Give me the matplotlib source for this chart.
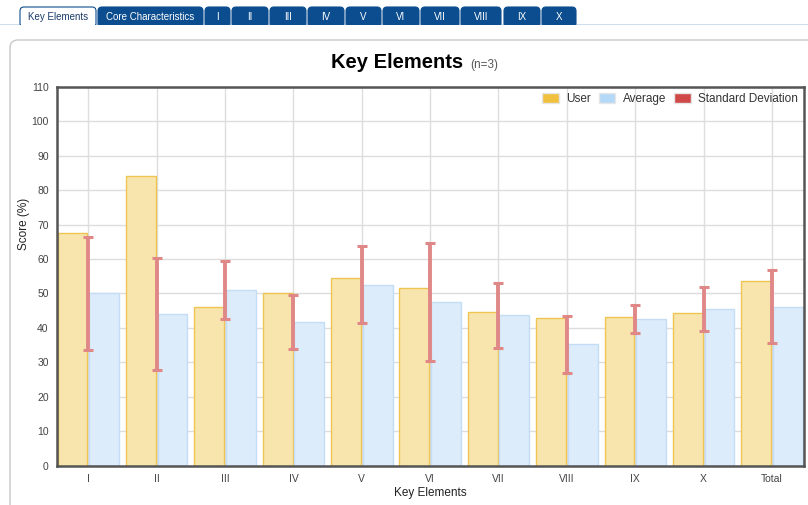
import matplotlib
matplotlib.use("Agg")
import matplotlib.pyplot as plt
from matplotlib.patches import FancyBboxPatch, Patch
import numpy as np

plt.rcParams['font.family'] = ['Liberation Sans', 'DejaVu Sans']

# chart data
categories = ['I', 'II', 'III', 'IV', 'V', 'VI', 'VII', 'VIII', 'IX', 'X', 'Total']
user = [67.5, 84, 46, 50, 54.5, 51.7, 44.6, 42.8, 43.1, 44.2, 53.7]
average = [50, 44, 51, 41.8, 52.6, 47.5, 43.6, 35.2, 42.5, 45.5, 46.1]
std_dev = [16.5, 16.3, 8.5, 7.8, 11.1, 17.1, 9.5, 8.3, 4.0, 6.5, 10.6]

tabs = ['Key Elements', 'Core Characteristics', 'I', 'II', 'III', 'IV', 'V',
        'VI', 'VII', 'VIII', 'IX', 'X']
tab_edges = [(20, 96), (98, 203), (205, 230), (232, 268), (270, 306), (308, 344),
             (346, 381), (383, 419), (421, 459), (461, 501), (504, 540), (542, 576)]

W, H = 808, 505
fig = plt.figure(figsize=(W / 100, H / 100), dpi=100)

# background layer in pixel coordinates: tabs and panel
bg = fig.add_axes([0, 0, 1, 1])
bg.set_xlim(0, W)
bg.set_ylim(H, 0)
bg.axis('off')

bg.plot([0, W], [24.5, 24.5], color='#0b4d8f', lw=1)
for i, (lab, (x0, x1)) in enumerate(zip(tabs, tab_edges)):
    active = (i == 0)
    tab = FancyBboxPatch((x0, 7), x1 - x0, 20,
                         boxstyle="round,pad=0,rounding_size=4",
                         facecolor='white' if active else '#0b4d8f',
                         edgecolor='#0b4d8f', lw=0.8, zorder=2)
    bg.add_patch(tab)
    bg.text((x0 + x1) / 2, 16.5, lab, ha='center', va='center', fontsize=7,
            color='#1b3a6b' if active else 'white', zorder=3)
bg.add_patch(plt.Rectangle((0, 25), W, 6, facecolor='white', edgecolor='none', zorder=4))

panel = FancyBboxPatch((10, 40), 830, 500, boxstyle="round,pad=0,rounding_size=8",
                       facecolor='white', edgecolor='#c8c8c8', lw=1)
bg.add_patch(panel)

bg.text(397, 62, 'Key Elements', ha='center', va='center', fontsize=14.5,
        fontweight='bold', color='black')
bg.text(470, 65, '(n=3)', ha='left', va='center', fontsize=8.5, color='#555555')

# main chart
ax = fig.add_axes([57 / W, 1 - 465.5 / H, 746.5 / W, 378.5 / H])
x = np.arange(len(categories))
bw = 0.435

ax.bar(x - 0.448, user, width=bw, align='edge', color='#f8e5ae',
       edgecolor='#eec452', lw=1, zorder=2)
ax.bar(x + 0.015, average, width=bw, align='edge', color='#dcecfa',
       edgecolor='#c3ddf6', lw=1, zorder=2)
eb = ax.errorbar(x, average, yerr=std_dev, fmt='none', ecolor='#e08888',
                 elinewidth=2.8, capsize=3.7, capthick=2.2, zorder=3)
for cl in eb[1]:
    cl.set_color('#d04848')

ax.set_xlim(-0.458, 10.462)
ax.set_ylim(0, 110)
ax.set_yticks(np.arange(0, 111, 10))
ax.set_xticks(x)
ax.set_xticklabels(categories)
ax.grid(True, color='#dddddd', lw=1)
ax.set_axisbelow(True)
for s in ax.spines.values():
    s.set_color('#555555')
    s.set_linewidth(1.8)
ax.tick_params(axis='both', length=0, labelsize=7.5, labelcolor='#444444')
ax.tick_params(axis='x', pad=6)
ax.tick_params(axis='y', pad=6)
ax.set_xlabel('Key Elements', fontsize=8.5, color='#222222', labelpad=2)
ax.set_ylabel('Score (%)', fontsize=8.5, color='#222222')
ax.yaxis.set_label_coords(-0.036, 0.638)

handles = [Patch(facecolor='#f0c13f', edgecolor='#e6e6e6'),
           Patch(facecolor='#b4d9f8', edgecolor='#e6e6e6'),
           Patch(facecolor='#d04848', edgecolor='#e6e6e6')]
ax.legend(handles, ['User', 'Average', 'Standard Deviation'], loc='upper right',
          ncol=3, frameon=False, fontsize=8.5, handlelength=1.4, handleheight=1.0,
          handletextpad=0.6, columnspacing=0.7, borderaxespad=0.1,
          labelcolor='#333333')

fig.savefig('out.png', dpi=100)
